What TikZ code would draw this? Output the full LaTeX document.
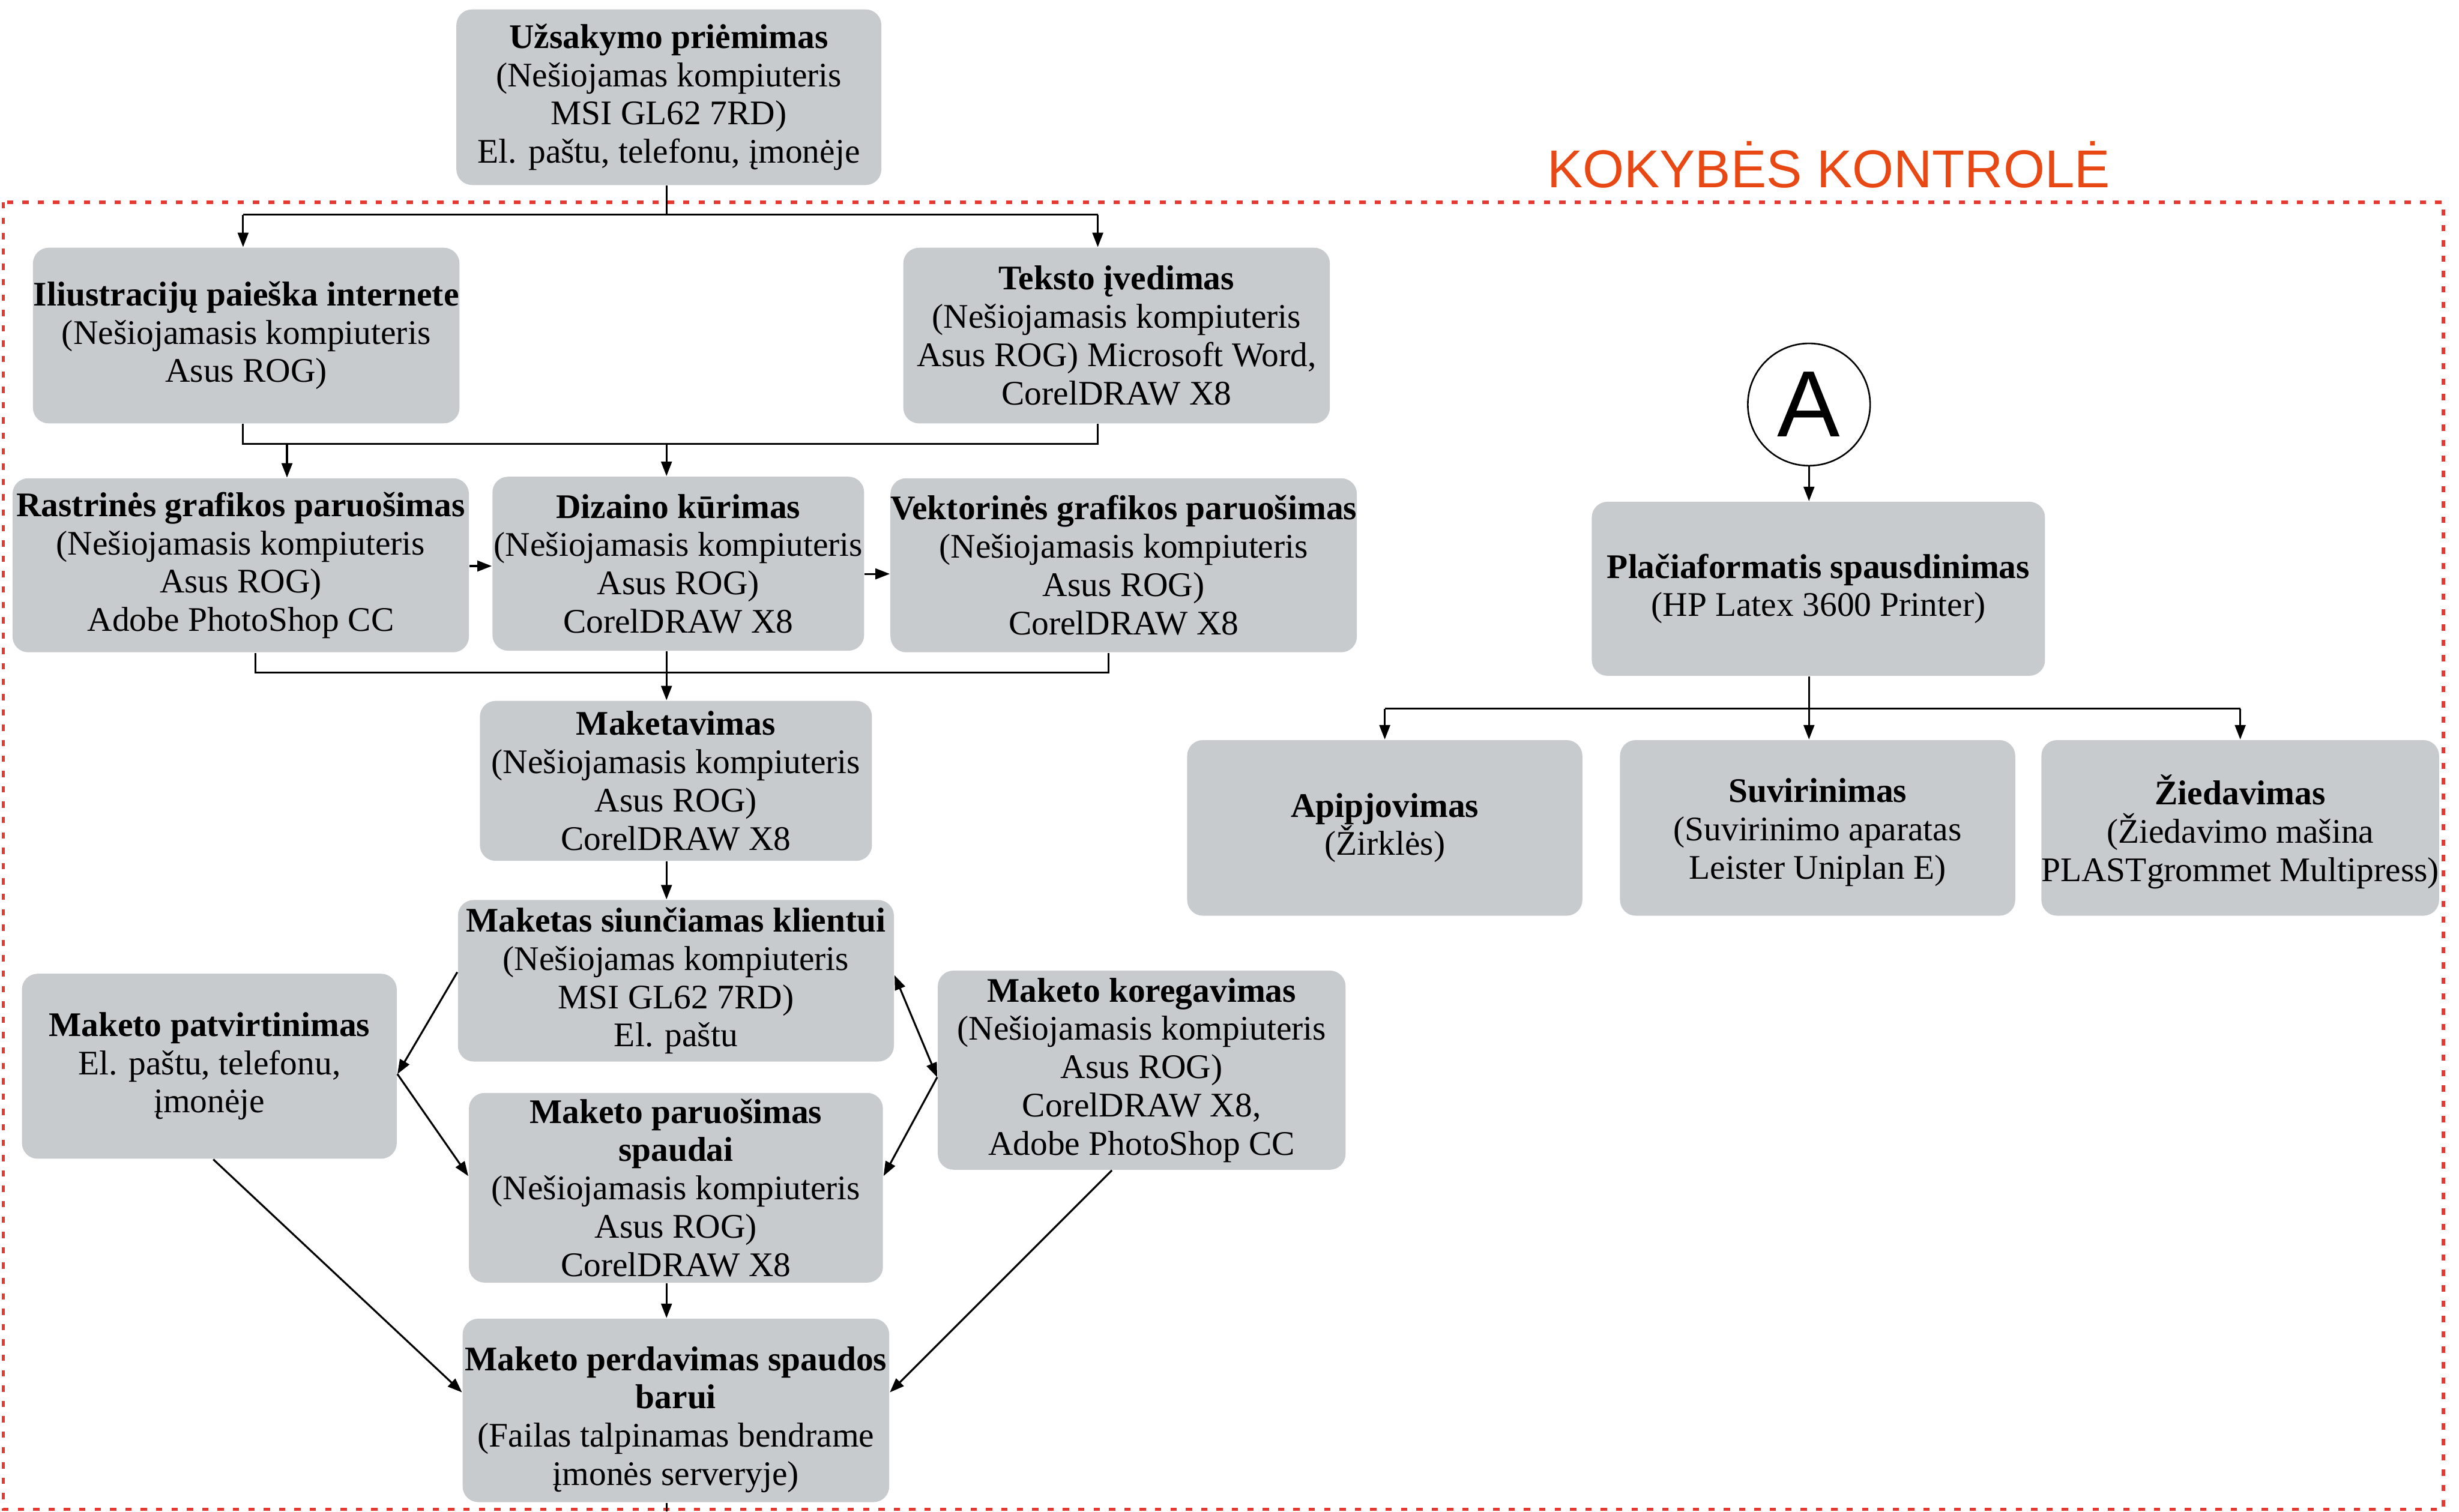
\documentclass[tikz,border=0pt]{standalone}
\usepackage{fontspec}
\setmainfont{Liberation Serif}
\newfontfamily\labelsans{Liberation Sans}
\usetikzlibrary{arrows.meta,calc}
\definecolor{boxgray}{RGB}{200,203,206}
\definecolor{qred}{RGB}{229,57,50}
\definecolor{qorange}{RGB}{232,72,20}
\begin{document}
\begin{tikzpicture}[x=0.5pt,y=-0.5pt,
  box/.style={fill=boxgray, rounded corners=5pt, align=center, inner sep=0pt,
    font=\fontsize{11}{12.2}\selectfont},
  conn/.style={line width=0.6pt, black},
  arr/.style={line width=0.6pt, black, -{Triangle[length=4.6pt,width=3.4pt]}},
  darr/.style={line width=0.6pt, black, {Triangle[length=4.6pt,width=3.4pt]}-{Triangle[length=4.6pt,width=3.4pt]}},
]
\useasboundingbox (0,0) rectangle (1568,964);

% quality control frame
\draw[qred, line width=1pt, dash pattern=on 2pt off 2.9pt] (2,129) rectangle (1558,962.5);
\node[text=qorange, font=\labelsans\fontsize{17}{20}\selectfont] (kk) at (1166,105) {KOKYBĖS KONTROLĖ};

% helper coordinates
\coordinate (spine) at (425,0);
\coordinate (xil) at (155,0);
\coordinate (xte) at (700,0);
\coordinate (xra) at (183,0);
\coordinate (x163) at (163,0);
\coordinate (x707) at (707,0);
\coordinate (x136) at (136,0);
\coordinate (x709) at (709,0);
\coordinate (r1) at (0,137);
\coordinate (r2) at (0,283);
\coordinate (r3) at (0,429);
\coordinate (r4) at (0,452);
\coordinate (y361) at (0,361);
\coordinate (y366) at (0,366);
\coordinate (y620) at (0,620);
\coordinate (y622) at (0,622);
\coordinate (y685) at (0,685);
\coordinate (y687) at (0,687);
\coordinate (y750) at (0,750);
\coordinate (y888) at (0,888);
\coordinate (ybot) at (0,964);

% boxes
\node[box, minimum width=135.5pt, minimum height=56pt] (u) at (426.5,62)
  {\textbf{Užsakymo priėmimas}\\(Nešiojamas kompiuteris\\MSI GL62 7RD)\\El. paštu, telefonu, įmonėje};
\node[box, minimum width=136pt, minimum height=56pt] (il) at (157,214)
  {\textbf{Iliustracijų paieška internete}\\(Nešiojamasis kompiuteris\\Asus ROG)};
\node[box, minimum width=136pt, minimum height=56pt] (te) at (712,214)
  {\textbf{Teksto įvedimas}\\(Nešiojamasis kompiuteris\\Asus ROG) Microsoft Word,\\CorelDRAW X8};
\node[box, minimum width=145.5pt, minimum height=55.5pt] (ra) at (153.5,360.5)
  {\textbf{Rastrinės grafikos paruošimas}\\(Nešiojamasis kompiuteris\\Asus ROG)\\Adobe PhotoShop CC};
\node[box, minimum width=118.5pt, minimum height=55.5pt] (di) at (432.5,359.5)
  {\textbf{Dizaino kūrimas}\\(Nešiojamasis kompiuteris\\Asus ROG)\\CorelDRAW X8};
\node[box, minimum width=148.5pt, minimum height=55.5pt] (ve) at (716.5,360.5)
  {\textbf{Vektorinės grafikos paruošimas}\\(Nešiojamasis kompiuteris\\Asus ROG)\\CorelDRAW X8};
\node[box, minimum width=125pt, minimum height=51pt] (mk) at (431,498)
  {\textbf{Maketavimas}\\(Nešiojamasis kompiuteris\\Asus ROG)\\CorelDRAW X8};
\node[box, minimum width=139pt, minimum height=51.5pt] (ms) at (431,625.5)
  {\textbf{Maketas siunčiamas klientui}\\(Nešiojamas kompiuteris\\MSI GL62 7RD)\\El. paštu};
\node[box, minimum width=119.5pt, minimum height=59pt] (pt) at (133.5,680)
  {\textbf{Maketo patvirtinimas}\\El. paštu, telefonu,\\įmonėje};
\node[box, minimum width=130pt, minimum height=63.5pt] (ko) at (728,682.5)
  {\textbf{Maketo koregavimas}\\(Nešiojamasis kompiuteris\\Asus ROG)\\CorelDRAW X8,\\Adobe PhotoShop CC};
\node[box, minimum width=132pt, minimum height=60.5pt] (pa) at (431,757.5)
  {\textbf{Maketo paruošimas}\\\textbf{spaudai}\\(Nešiojamasis kompiuteris\\Asus ROG)\\CorelDRAW X8};
\node[box, minimum width=136pt, minimum height=58.5pt] (pe) at (431,899.5)
  {\rule{0pt}{13.5pt}\textbf{Maketo perdavimas spaudos}\\\textbf{barui}\\(Failas talpinamas bendrame\\įmonės serveryje)};

\node[draw=black, line width=0.5pt, fill=white, circle, minimum size=39pt, inner sep=0pt,
  font=\labelsans\fontsize{30}{30}\selectfont] (A) at (1153.5,258) {A};
\node[box, minimum width=144.5pt, minimum height=55.5pt] (pl) at (1159.5,375.5)
  {\textbf{Plačiaformatis spausdinimas}\\(HP Latex 3600 Printer)};
\node[box, minimum width=126pt, minimum height=56pt] (ap) at (883,528)
  {\textbf{Apipjovimas}\\(Žirklės)};
\node[box, minimum width=126pt, minimum height=56pt] (su) at (1159,528)
  {\rule{0pt}{10.5pt}\textbf{Suvirinimas}\\(Suvirinimo aparatas\\Leister Uniplan E)};
\node[box, minimum width=126.5pt, minimum height=56pt] (zi) at (1428.5,528)
  {\rule{0pt}{12pt}\textbf{Žiedavimas}\\(Žiedavimo mašina\\PLASTgrommet Multipress)};

% connectors, left branch
\draw[conn] (u.south -| spine) -- (spine |- r1);
\draw[conn] (xil |- r1) -- (xte |- r1);
\draw[arr] (xil |- r1) -- (il.north -| xil);
\draw[arr] (xte |- r1) -- (te.north -| xte);

\draw[conn] (il.south -| xil) -- (xil |- r2) -- (xte |- r2) -- (te.south -| xte);
\draw[arr] (xra |- r2) -- (ra.north -| xra);
\draw[arr] (spine |- r2) -- (di.north -| spine);

\draw[arr] (ra.east |- y361) -- (di.west |- y361);
\draw[arr] (di.east |- y366) -- (ve.west |- y366);

\draw[conn] (ra.south -| x163) -- (x163 |- r3) -- (x707 |- r3) -- (ve.south -| x707);
\draw[arr] (di.south -| spine) -- (mk.north -| spine);
\draw[arr] (mk.south -| spine) -- (ms.north -| spine);

\draw[arr] (ms.west |- y620) -- (pt.east |- y685);
\draw[arr] (pt.east |- y685) -- (pa.west |- y750);
\draw[darr] (ms.east |- y622) -- (ko.west |- y687);
\draw[arr] (ko.west |- y687) -- (pa.east |- y750);
\draw[arr] (pa.south -| spine) -- (pe.north -| spine);
\draw[arr] (pt.south -| x136) -- (pe.west |- y888);
\draw[arr] (ko.south -| x709) -- (pe.east |- y888);
\draw[conn] (pe.south -| spine) -- (spine |- ybot);

% right branch
\draw[arr] (A.south) -- (A.south |- pl.north);
\draw[conn] (pl.south -| A) -- (A |- r4);
\draw[conn] (ap.north |- r4) -- (zi.north |- r4);
\draw[arr] (ap.north |- r4) -- (ap.north);
\draw[arr] (A |- r4) -- (A |- su.north);
\draw[arr] (zi.north |- r4) -- (zi.north);
\end{tikzpicture}
\end{document}
